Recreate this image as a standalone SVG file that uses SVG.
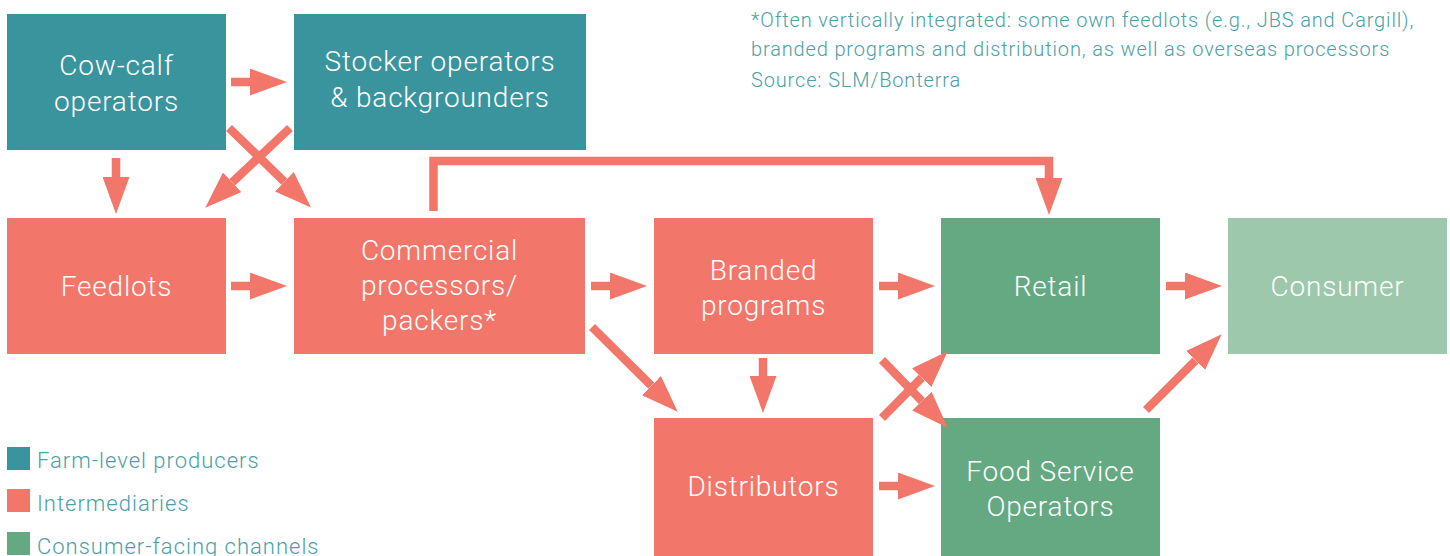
<svg xmlns="http://www.w3.org/2000/svg" width="1450" height="556" viewBox="0 0 1450 556">
<defs>
<style>
.box text{font-family:Roboto,"Liberation Sans",sans-serif;font-weight:300;font-size:28px;letter-spacing:0.8px;fill:#ffffff;text-anchor:middle}
.farm{fill:#3A949E}
.inter{fill:#F2766A}
.cons{fill:#64A982}
.end{fill:#9DC8AB}
.note{font-family:Roboto,"Liberation Sans",sans-serif;font-weight:300;fill:#4A9FA8}
.conn path{fill:none;stroke:#F2766A;stroke-width:8.5;stroke-linejoin:miter;marker-end:url(#head)}
</style>
<marker id="head" markerUnits="userSpaceOnUse" viewBox="0 -13.5 37 27" refX="0" refY="0" markerWidth="37" markerHeight="27" orient="auto">
<path d="M0,-13.5 L37,0 L0,13.5 Z" fill="#F2766A"/>
</marker>
</defs>
<rect width="1450" height="556" fill="#ffffff"/>

<g id="note" class="note" font-size="20" letter-spacing="0.85">
<text x="751" y="27">*Often vertically integrated: some own feedlots (e.g., JBS and Cargill),</text>
<text x="751" y="56">branded programs and distribution, as well as overseas processors</text>
<text x="751" y="87">Source: SLM/Bonterra</text>
</g>

<g id="cow-calf" class="box"><rect class="farm" x="7" y="14" width="219" height="136"/><text x="116.5" y="75">Cow-calf</text><text x="116.5" y="111">operators</text></g>
<g id="stocker" class="box"><rect class="farm" x="294" y="14" width="292" height="136"/><text x="440" y="71">Stocker operators</text><text x="440" y="107">&amp; backgrounders</text></g>
<g id="feedlots" class="box"><rect class="inter" x="7" y="218" width="219" height="136"/><text x="116.5" y="296">Feedlots</text></g>
<g id="commercial" class="box"><rect class="inter" x="294" y="218" width="291" height="136"/><text x="439.5" y="260">Commercial</text><text x="439.5" y="295">processors/</text><text x="439.5" y="330">packers*</text></g>
<g id="branded" class="box"><rect class="inter" x="654" y="218" width="219" height="136"/><text x="763.5" y="280">Branded</text><text x="763.5" y="315">programs</text></g>
<g id="retail" class="box"><rect class="cons" x="941" y="218" width="219" height="136"/><text x="1050.5" y="296">Retail</text></g>
<g id="consumer" class="box"><rect class="end" x="1228" y="218" width="219" height="136"/><text x="1337.5" y="296">Consumer</text></g>
<g id="distributors" class="box"><rect class="inter" x="654" y="418" width="219" height="140"/><text x="763.5" y="496">Distributors</text></g>
<g id="foodservice" class="box"><rect class="cons" x="941" y="418" width="219" height="140"/><text x="1050.5" y="481">Food Service</text><text x="1050.5" y="516">Operators</text></g>

<g id="connectors" class="conn">
<path d="M231,82 H250"/>
<path d="M116,158 V177"/>
<path d="M290,128 L232.2,182.3"/>
<path d="M229,128 L284.4,181.7"/>
<path d="M231,286 H250"/>
<path d="M433.5,211 V161 H1049 V178"/>
<path d="M591,286 H610"/>
<path d="M592,327 L651.4,385.7"/>
<path d="M763,358 V376"/>
<path d="M879,286 H898"/>
<path d="M882,360 L921.9,401.1"/>
<path d="M882,418 L921.7,377.7"/>
<path d="M879,486 H898"/>
<path d="M1166,286 H1185"/>
<path d="M1146,410 L1195.5,360.5"/>
</g>

<g id="legend">
<rect class="farm" x="7" y="447" width="23" height="23"/>
<rect class="inter" x="7" y="489" width="23" height="23"/>
<rect class="cons" x="7" y="532" width="23" height="23"/>
<g class="note" font-size="22" letter-spacing="1">
<text x="37" y="468">Farm-level producers</text>
<text x="37" y="511">Intermediaries</text>
<text x="37" y="554">Consumer-facing channels</text>
</g>
</g>
</svg>
